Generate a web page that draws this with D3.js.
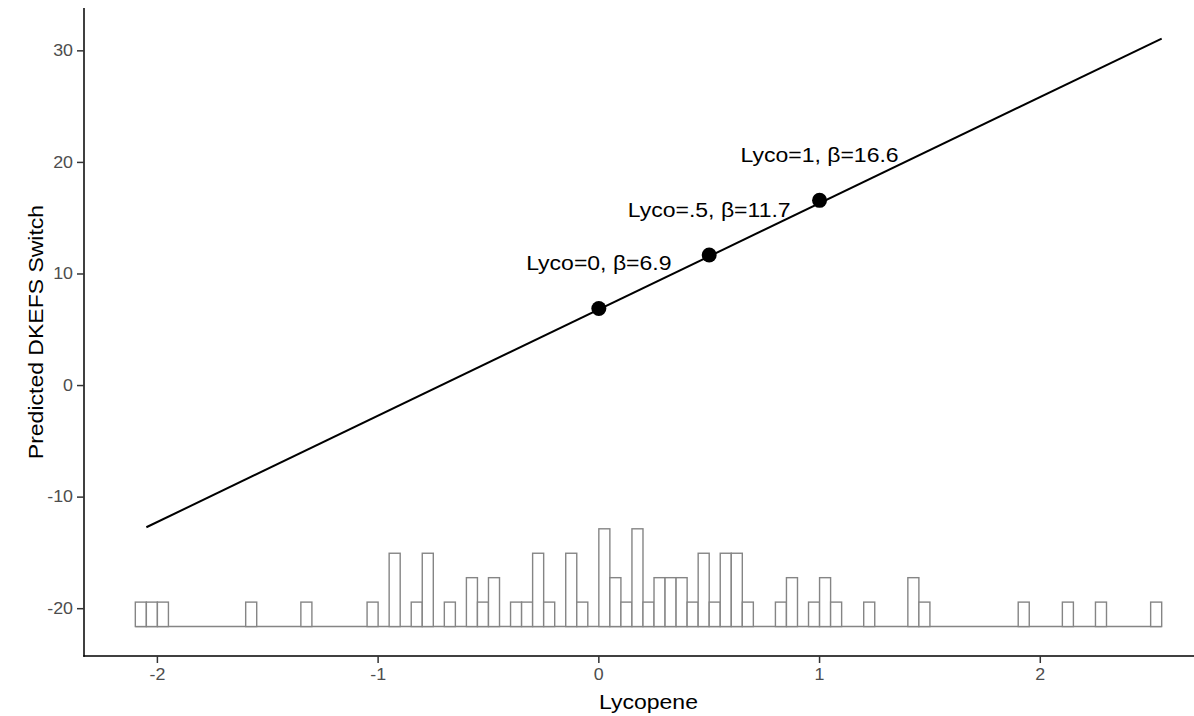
<!DOCTYPE html>
<html>
<head>
<meta charset="utf-8">
<script src="https://cdn.jsdelivr.net/npm/d3@7"></script>
<style>
  html, body { margin: 0; padding: 0; background: #fff; }
  svg { display: block; font-family: "Liberation Sans", Arial, sans-serif; }
</style>
</head>
<body>
<svg id="chart" width="1194" height="716"></svg>
<script>
// fitted line (two ends) and the three marked points
const lineX = [-2.05, 2.55];
const lineY = [-12.7, 31.1];
const pointX = [0, 0.5, 1];
const pointY = [6.9, 11.7, 16.6];
const pointLabels = ["Lyco=0, β=6.9", "Lyco=.5, β=11.7", "Lyco=1, β=16.6"];

// histogram of lycopene, drawn along the bottom of the panel
const binStart = -2.1;
const binWidth = 0.05;
const binCounts = [
  1, 1, 1, 0, 0, 0, 0, 0, 0, 0,
  1, 0, 0, 0, 0, 1, 0, 0, 0, 0,
  0, 1, 0, 3, 0, 1, 3, 0, 1, 0,
  2, 1, 2, 0, 1, 1, 3, 1, 0, 3,
  1, 0, 4, 2, 1, 4, 1, 2, 2, 2,
  1, 3, 1, 3, 3, 1, 0, 0, 1, 2,
  0, 1, 2, 1, 0, 0, 1, 0, 0, 0,
  2, 1, 0, 0, 0, 0, 0, 0, 0, 0,
  1, 0, 0, 0, 1, 0, 0, 1, 0, 0,
  0, 0, 1
];
const histBase = -21.6;   // where the histogram sits on the y axis
const histUnit = 2.19;    // y units per observation

const xTicks = [-2, -1, 0, 1, 2];
const yTicks = [-20, -10, 0, 10, 20, 30];
const xDomain = [-2.3325, 2.7825];
const yDomain = [-24.24, 33.84];

const svg = d3.select("#chart");
const mLeft = 84, mTop = 8, mBottom = 656, mRight = 1213;

const x = d3.scaleLinear().domain(xDomain).range([mLeft, mRight]);
const y = d3.scaleLinear().domain(yDomain).range([mBottom, mTop]);

// stretched text, the original font runs wider than Arial
function label(parent, px, py, str, opts) {
  const g = parent.append("g")
    .attr("transform", `translate(${px},${py})${opts.rotate ? " rotate(-90)" : ""} scale(${opts.sx},1)`);
  g.append("text")
    .attr("text-anchor", opts.anchor || "middle")
    .attr("dominant-baseline", opts.baseline || "auto")
    .attr("font-size", opts.size)
    .attr("fill", opts.fill || "#000")
    .text(str);
}

// histogram
const histColor = "#858585";
const bins = binCounts.map((c, i) => ({ x0: binStart + i * binWidth, count: c }));
const hist = svg.append("g");
// empty bins still draw as a flat line along the base
hist.append("line")
  .attr("x1", x(binStart))
  .attr("x2", x(binStart + binCounts.length * binWidth))
  .attr("y1", y(histBase))
  .attr("y2", y(histBase))
  .attr("stroke", histColor)
  .attr("stroke-width", 1.4);
hist.selectAll("rect")
  .data(bins.filter((d) => d.count > 0))
  .join("rect")
  .attr("x", (d) => x(d.x0))
  .attr("width", (d) => x(d.x0 + binWidth) - x(d.x0))
  .attr("y", (d) => y(histBase + d.count * histUnit))
  .attr("height", (d) => y(histBase) - y(histBase + d.count * histUnit))
  .attr("fill", "#fff")
  .attr("stroke", histColor)
  .attr("stroke-width", 1.4);

// regression line
svg.append("path")
  .datum(lineX.map((v, i) => [v, lineY[i]]))
  .attr("d", d3.line().x((d) => x(d[0])).y((d) => y(d[1])))
  .attr("fill", "none")
  .attr("stroke", "#000")
  .attr("stroke-width", 2);

// points and their labels
svg.append("g")
  .selectAll("circle")
  .data(pointX)
  .join("circle")
  .attr("cx", (d) => x(d))
  .attr("cy", (d, i) => y(pointY[i]))
  .attr("r", 7.5)
  .attr("fill", "#000");

pointX.forEach((v, i) => {
  label(svg, x(v), y(pointY[i] + 4), pointLabels[i], { size: 19.5, sx: 1.18, baseline: "central" });
});

// axes
const axes = svg.append("g");
axes.append("line")
  .attr("x1", mLeft).attr("x2", mLeft).attr("y1", mTop).attr("y2", mBottom + 0.75)
  .attr("stroke", "#000").attr("stroke-width", 1.5);
axes.append("line")
  .attr("x1", mLeft - 0.75).attr("x2", mRight).attr("y1", mBottom).attr("y2", mBottom)
  .attr("stroke", "#000").attr("stroke-width", 1.5);

yTicks.forEach((t) => {
  axes.append("line")
    .attr("x1", mLeft - 7).attr("x2", mLeft).attr("y1", y(t)).attr("y2", y(t))
    .attr("stroke", "#333").attr("stroke-width", 1.5);
  label(axes, mLeft - 11, y(t), t, { size: 15.8, sx: 1.13, anchor: "end", baseline: "central", fill: "#4d4d4d" });
});

xTicks.forEach((t) => {
  axes.append("line")
    .attr("x1", x(t)).attr("x2", x(t)).attr("y1", mBottom).attr("y2", mBottom + 7)
    .attr("stroke", "#333").attr("stroke-width", 1.5);
  label(axes, x(t), mBottom + 23.5, t, { size: 15.8, sx: 1.13, fill: "#4d4d4d" });
});

// titles
label(svg, (mLeft + mRight) / 2, 709, "Lycopene", { size: 19.5, sx: 1.18 });
label(svg, 43, (mTop + mBottom) / 2, "Predicted DKEFS Switch", { size: 19.5, sx: 1.18, rotate: true });
</script>
</body>
</html>
